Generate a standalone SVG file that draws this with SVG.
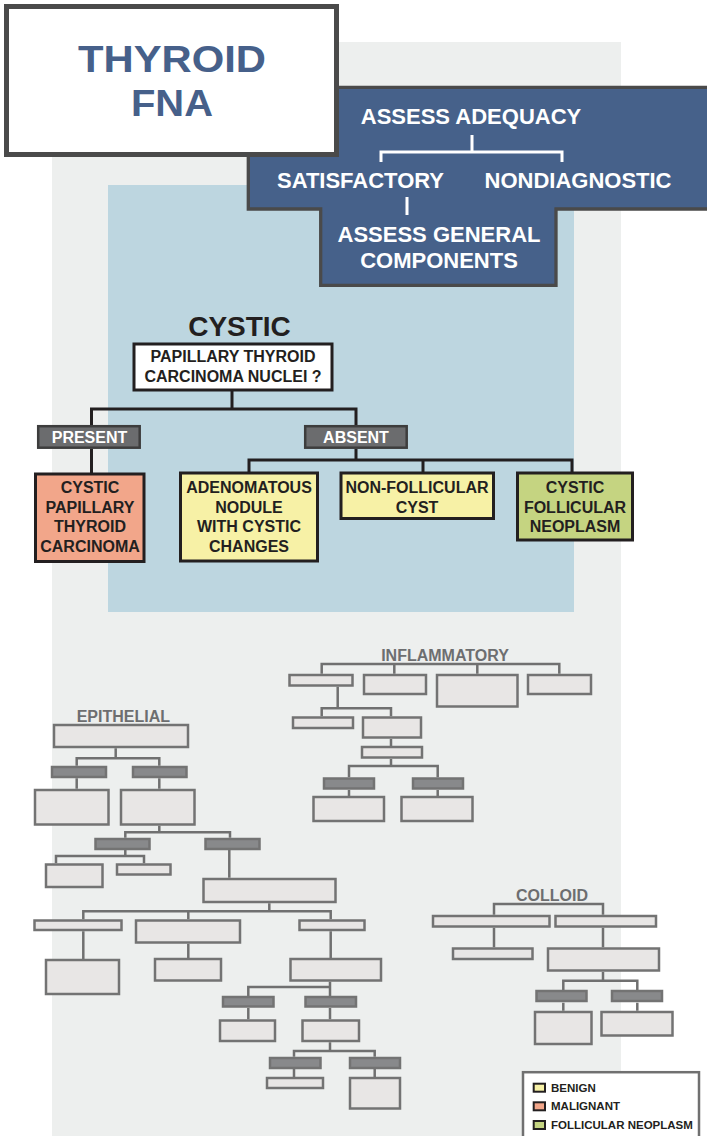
<svg xmlns="http://www.w3.org/2000/svg" width="707" height="1136" viewBox="0 0 707 1136">
<style>
text{font-family:"Liberation Sans",Arial,sans-serif;font-weight:bold;text-anchor:middle}
.wt{fill:#fff;font-size:22px}
.bt{fill:#231f20;font-size:16px}
.gl{fill:#6d6e70;font-size:16px}
.cb{stroke:#231f20;stroke-width:3}
.gb{fill:#e8e6e5;stroke:#737373;stroke-width:2.5}
.gd{fill:#88898b;stroke:#737373;stroke-width:2.5}
.bl{fill:none;stroke:#231f20;stroke-width:3}
.gline{fill:none;stroke:#707070;stroke-width:2.5}
.wl{fill:none;stroke:#fff;stroke-width:3}
.lg{fill:#231f20;font-size:11.5px;text-anchor:start}
</style>
<rect x="52" y="42" width="569" height="1100" fill="#edefee"/>
<rect x="108" y="185" width="466" height="427" fill="#bdd6e0"/>

<g id="adequacy">
<path d="M248.3 87.4H712V209H556V285.3H320.7V209H248.3Z" fill="#46618a" stroke="#4a4a4a" stroke-width="3.3"/>
<text class="wt" x="471" y="124">ASSESS ADEQUACY</text>
<text class="wt" x="360.5" y="188">SATISFACTORY</text>
<text class="wt" x="578" y="188">NONDIAGNOSTIC</text>
<text class="wt" x="439" y="242">ASSESS GENERAL</text>
<text class="wt" x="439" y="268">COMPONENTS</text>
</g>

<g id="title">
<rect x="6.5" y="6.5" width="330" height="148" fill="#fff" stroke="#4a4a4a" stroke-width="5"/>
<text x="172" y="72" font-size="37" fill="#46608a" textLength="188" lengthAdjust="spacingAndGlyphs">THYROID</text>
<text x="172" y="116" font-size="37" fill="#46608a" textLength="82" lengthAdjust="spacingAndGlyphs">FNA</text>
</g>

<g id="connectors">
<path class="wl" d="M472 135V152M381 162V152H562V162M407 197V215"/>
<path class="bl" d="M232 391V409M91.5 425V409H356V425M91.5 449V473M356 449V460M249 472V460H572V472M423 460V472"/>
<path class="gline" d="M321.7 673.7V664H559.3V673.7M394.3 664V673.7M477.3 664V673.7M337.7 686.7V708.3M321.7 716.3V708.3H391V716.3M391 739V746M391 759V766M349 777.3V766H437.7V777.3M349 790V796M437.7 790V796"/>
<path class="gline" d="M115.7 748.3V758.3M76.7 765.7V758.3H159.3V765.7M76.7 778.3V788.7M159.3 778.3V788.7M159.3 825.7V832.3M125.3 837.7V832.3H230V837.7M125.3 850V856M56 863.3V856H144V863.3M229.3 850V877.7M269.3 903.3V911.3M83.3 919.3V911.3H330.7V919.3M188.3 911.3V919.3M83.3 931.3V959M188.3 943.7V958M330.7 931.3V958M330 981.7V987M248.3 996V987H330V996M248.3 1008V1019.3M330 1008V1019.3M330 1042.3V1051M294 1056.7V1051H374.7V1056.7M294 1069V1077M374.7 1069V1077"/>
<path class="gline" d="M494 914.7V904H603V914.7M494 927.7V947.3M603 927.7V947.3M603 972V980.7M563.3 990V980.7H637.3V990M563.3 1002.7V1010.7M637.3 1002.7V1010.7"/>
</g>

<g id="cystic">
<text x="239.5" y="336" font-size="28" fill="#231f20">CYSTIC</text>
</g>
<g id="question">
<rect class="cb" x="134" y="344" width="198" height="46" fill="#fff" stroke-width="2.5"/>
<text class="bt" x="233" y="362.3">PAPILLARY THYROID</text>
<text class="bt" x="233" y="381.7">CARCINOMA NUCLEI ?</text>
</g>
<g id="present">
<rect x="38.2" y="426.2" width="101.5" height="21.5" fill="#6b6c6e" stroke="#3d3d3d" stroke-width="2.5"/>
<text x="89.5" y="442.5" font-size="16" fill="#fff">PRESENT</text>
</g>
<g id="absent">
<rect x="305.2" y="426.2" width="101.5" height="21.5" fill="#6b6c6e" stroke="#3d3d3d" stroke-width="2.5"/>
<text x="356" y="442.5" font-size="16" fill="#fff">ABSENT</text>
</g>
<g id="cystic-ptc">
<rect class="cb" x="35.5" y="474" width="108.5" height="87.5" fill="#f2a68a"/>
<text class="bt" x="90" y="493.3">CYSTIC</text>
<text class="bt" x="90" y="512.7">PAPILLARY</text>
<text class="bt" x="90" y="532.3">THYROID</text>
<text class="bt" x="90" y="552">CARCINOMA</text>
</g>
<g id="adenomatous">
<rect class="cb" x="180.5" y="473" width="137" height="88" fill="#f7f1a6"/>
<text class="bt" x="249" y="493.3">ADENOMATOUS</text>
<text class="bt" x="249" y="512.7">NODULE</text>
<text class="bt" x="249" y="532.3">WITH CYSTIC</text>
<text class="bt" x="249" y="552">CHANGES</text>
</g>
<g id="non-follicular">
<rect class="cb" x="341" y="473" width="152.5" height="45.5" fill="#f7f1a6"/>
<text class="bt" x="417" y="493.3">NON-FOLLICULAR</text>
<text class="bt" x="417" y="512.7">CYST</text>
</g>
<g id="cystic-fn">
<rect class="cb" x="517.5" y="473" width="115" height="67" fill="#c5d481"/>
<text class="bt" x="575" y="493.3">CYSTIC</text>
<text class="bt" x="575" y="512.7">FOLLICULAR</text>
<text class="bt" x="575" y="532.3">NEOPLASM</text>
</g>

<g id="inflammatory">
<text class="gl" x="445" y="660.7">INFLAMMATORY</text>
<rect class="gb" x="289.5" y="675" width="63" height="10.5"/>
<rect class="gb" x="364" y="675" width="62" height="19"/>
<rect class="gb" x="437" y="675" width="80.5" height="31.5"/>
<rect class="gb" x="528" y="675" width="63" height="19"/>
<rect class="gb" x="293" y="717.5" width="60" height="10.5"/>
<rect class="gb" x="363" y="717.5" width="58" height="20"/>
<rect class="gb" x="362" y="747" width="60" height="10.5"/>
<rect class="gd" x="324" y="778.5" width="50" height="10"/>
<rect class="gd" x="413" y="778.5" width="50" height="10"/>
<rect class="gb" x="313.5" y="797" width="70.5" height="24"/>
<rect class="gb" x="401.5" y="797" width="71" height="24"/>
</g>

<g id="epithelial">
<text class="gl" x="123.3" y="721.7">EPITHELIAL</text>
<rect class="gb" x="54" y="725" width="134" height="22"/>
<rect class="gd" x="52" y="767" width="54" height="10"/>
<rect class="gd" x="133" y="767" width="53.5" height="10"/>
<rect class="gb" x="35" y="790" width="73.5" height="34.5"/>
<rect class="gb" x="121" y="790" width="73.5" height="34.5"/>
<rect class="gd" x="95.5" y="839" width="54" height="10"/>
<rect class="gd" x="205.5" y="839" width="54" height="10"/>
<rect class="gb" x="46" y="864.5" width="56.5" height="22.5"/>
<rect class="gb" x="117" y="864.5" width="53.5" height="10"/>
<rect class="gb" x="203.5" y="879" width="132" height="23"/>
<rect class="gb" x="34.5" y="920.5" width="87" height="9.5"/>
<rect class="gb" x="136" y="920.5" width="104" height="22"/>
<rect class="gb" x="299.5" y="920.5" width="65" height="9.5"/>
<rect class="gb" x="46" y="960" width="73" height="34"/>
<rect class="gb" x="155" y="959" width="66" height="21.5"/>
<rect class="gb" x="290.5" y="959" width="90.5" height="21.5"/>
<rect class="gd" x="223" y="997" width="50.5" height="9.5"/>
<rect class="gd" x="305.5" y="997" width="50.5" height="9.5"/>
<rect class="gb" x="220" y="1020.5" width="55" height="20.5"/>
<rect class="gb" x="302.5" y="1020.5" width="56.5" height="20.5"/>
<rect class="gd" x="270" y="1058" width="50.5" height="10"/>
<rect class="gd" x="350" y="1058" width="50" height="10"/>
<rect class="gb" x="267" y="1078" width="56" height="10"/>
<rect class="gb" x="350" y="1078" width="50" height="30.5"/>
</g>

<g id="colloid">
<text class="gl" x="552" y="900.7">COLLOID</text>
<rect class="gb" x="433" y="916" width="116.5" height="10.5"/>
<rect class="gb" x="555.5" y="916" width="100.5" height="10.5"/>
<rect class="gb" x="453" y="948.5" width="79.5" height="10.5"/>
<rect class="gb" x="548" y="948.5" width="111" height="22"/>
<rect class="gd" x="536.5" y="991" width="50" height="10"/>
<rect class="gd" x="612" y="991" width="50" height="10"/>
<rect class="gb" x="535" y="1012" width="56.5" height="32"/>
<rect class="gb" x="601.5" y="1012" width="71" height="23.5"/>
</g>

<g id="legend">
<rect x="523" y="1072.2" width="176" height="80" fill="#fff" stroke="#707070" stroke-width="2.5"/>
<rect x="533.7" y="1083.7" width="11.3" height="8" fill="#f7f1a6" stroke="#231f20" stroke-width="2"/>
<text class="lg" x="551" y="1091.7">BENIGN</text>
<rect x="533.7" y="1102.3" width="11.3" height="8" fill="#f2a68a" stroke="#231f20" stroke-width="2"/>
<text class="lg" x="551" y="1110.3">MALIGNANT</text>
<rect x="533.7" y="1121" width="11.3" height="8" fill="#c5d481" stroke="#231f20" stroke-width="2"/>
<text class="lg" x="551" y="1129">FOLLICULAR NEOPLASM</text>
</g>
</svg>
